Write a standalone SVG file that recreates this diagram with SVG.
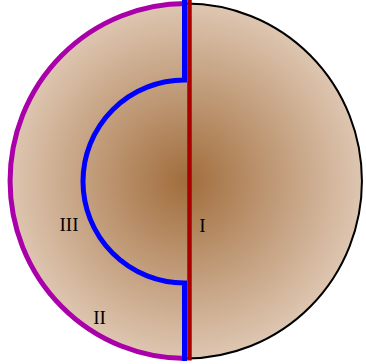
<svg xmlns="http://www.w3.org/2000/svg" width="366" height="364" viewBox="0 0 366 364">
  <defs>
    <radialGradient id="g" cx="186" cy="181" r="177" gradientUnits="userSpaceOnUse">
      <stop offset="0" stop-color="#a16d3c"/>
      <stop offset="1" stop-color="#dec6b1"/>
    </radialGradient>
  </defs>
  <style>
    .lbl { font-family: "Liberation Serif", "Times New Roman", serif; font-size: 19px; fill: #000; text-anchor: middle; }
  </style>
  <g id="disk">
    <ellipse cx="186" cy="181" rx="176" ry="177.5" fill="url(#g)"/>
  </g>
  <g id="connectors" fill="none">
    <path d="M186,3.5 A176,177.5 0 0 1 186,358.5" stroke="#000" stroke-width="2"/>
    <path d="M186,3.5 A176,177.5 0 0 0 186,358.5" stroke="#aa00aa" stroke-width="5"/>
    <path d="M189.5,0 V360.5" stroke="#aa0000" stroke-width="4.5"/>
    <path d="M184.5,0 V80 A101.5,101.5 0 0 0 184.5,283 V361" stroke="#0000ff" stroke-width="5"/>
  </g>
  <g id="region-I"><text class="lbl" x="202.5" y="232">I</text></g>
  <g id="region-II"><text class="lbl" x="99.5" y="324">II</text></g>
  <g id="region-III"><text class="lbl" x="69" y="231">III</text></g>
</svg>
